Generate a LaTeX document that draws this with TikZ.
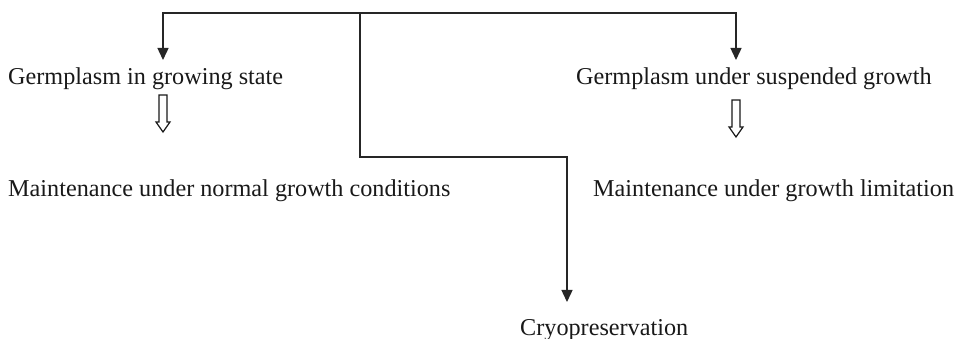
\documentclass[tikz,border=0pt]{standalone}
\usepackage{fontspec}
\setmainfont{Liberation Serif}
\usetikzlibrary{arrows.meta}
\tikzset{
  lbl/.style={anchor=base west, inner sep=0pt, font=\fontsize{24.2}{29}\selectfont, text=black!90},
  conn/.style={line width=1.4pt, black!85, -{Triangle[length=12pt,width=11pt]}},
  hollow/.style={line width=1.2pt, black!90, fill=white, line join=miter}
}
\begin{document}
\begin{tikzpicture}[x=1pt,y=-1pt]
\useasboundingbox (0,0) rectangle (959,339);
% texts
\node[lbl] (g1) at (8,85) {Germplasm in growing state};
\node[lbl] (g2) at (576,85) {Germplasm under suspended growth};
\node[lbl] (m1) at (8,197) {Maintenance under normal growth conditions};
\node[lbl] (m2) at (593,197) {Maintenance under growth limitation};
\node[lbl] (cr) at (520,335) {Cryopreservation};
% connector points
\coordinate (hub) at (360,13);
\coordinate (tL) at (163,60);
\coordinate (tR) at (736,60);
\coordinate (bend) at (360,157);
\coordinate (tC) at (567,302);
\draw[conn] (hub) -| (tL);
\draw[conn] (hub) -| (tR);
\draw[conn] (hub) -- (bend) -| (tC);
% hollow arrows
\draw[hollow] (159,95) -- (167,95) -- (167,122) -- (170,122) -- (163,132) -- (156,122) -- (159,122) -- cycle;
\draw[hollow] (732,100) -- (740,100) -- (740,127) -- (743,127) -- (736,137) -- (729,127) -- (732,127) -- cycle;
\end{tikzpicture}
\end{document}
